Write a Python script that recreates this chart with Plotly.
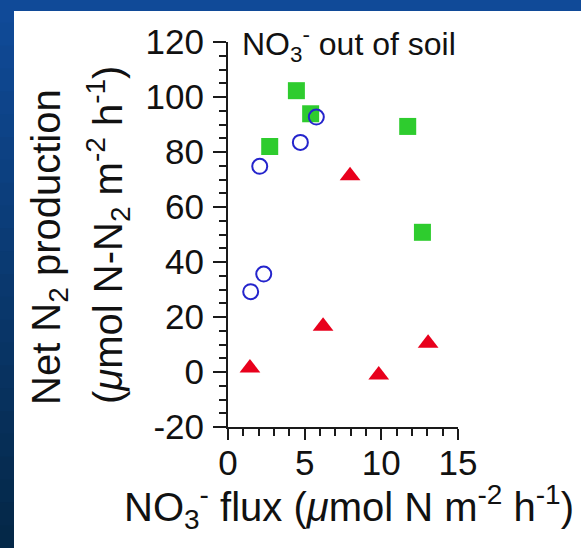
import plotly.graph_objects as go

# NO3- flux (umol N m-2 h-1) vs net N2 production (umol N-N2 m-2 h-1)
sq_x = [4.46, 5.39, 2.72, 11.72, 12.68]
sq_y = [102.3, 93.9, 82.0, 89.3, 50.8]

circ_x = [5.76, 4.72, 2.07, 1.48, 2.33]
circ_y = [92.7, 83.5, 74.8, 29.2, 35.6]

tri_x = [1.43, 6.2, 7.96, 9.83, 13.05]
tri_y = [1.5, 16.6, 71.4, -1.1, 10.5]

x_ticks = [0, 5, 10, 15]
y_ticks = [-20, 0, 20, 40, 60, 80, 100, 120]
y_tick_text = ["-20", "0", "20", "40", "60", "80", "100", "120"]

W, H = 581, 548
L, R, T, B = 228, 123, 42, 121
PW, PH = W - L - R, H - T - B

FONT = "Liberation Sans, Arial, Helvetica, sans-serif"


def px(x):
    return (x - L) / PW


def py(y):
    return 1 - (y - T) / PH


fig = go.Figure()
fig.add_trace(go.Scatter(
    x=sq_x, y=sq_y, mode="markers",
    marker=dict(symbol="square", size=17, color="#2ecc2e", line=dict(width=0)),
))
fig.add_trace(go.Scatter(
    x=circ_x, y=circ_y, mode="markers",
    marker=dict(symbol="circle-open", size=15, color="#2424cc", line=dict(width=2, color="#2424cc")),
))
fig.add_trace(go.Scatter(
    x=tri_x, y=tri_y, mode="markers",
    marker=dict(symbol="triangle-up", size=18, color="#e8001c", line=dict(width=0)),
))

# slide background: vertical blue gradient, then the white panel
shapes = []
n = 24
top_c = (16, 74, 152)
bot_c = (4, 40, 72)
for i in range(n):
    f = i / (n - 1)
    c = tuple(round(top_c[k] + (bot_c[k] - top_c[k]) * f) for k in range(3))
    y0 = H * i / n
    y1 = H * (i + 1) / n + 1
    shapes.append(dict(type="rect", xref="paper", yref="paper", layer="below",
                       x0=px(0), x1=px(W), y0=py(y1), y1=py(y0),
                       fillcolor="rgb(%d,%d,%d)" % c, line=dict(width=0)))
shapes.append(dict(type="rect", xref="paper", yref="paper", layer="below",
                   x0=px(14), x1=px(W + 2), y0=py(H + 2), y1=py(11),
                   fillcolor="white", line=dict(width=0)))

axis_common = dict(
    showline=True, linecolor="#1a1a1a", linewidth=2,
    ticks="outside", tickwidth=1.5, tickcolor="#1a1a1a",
    showgrid=False, zeroline=False,
    tickfont=dict(family=FONT, size=35, color="#111"),
)

fig.update_layout(
    width=W, height=H,
    margin=dict(l=L, r=R, t=T, b=B),
    paper_bgcolor="rgb(10,55,110)",
    plot_bgcolor="white",
    showlegend=False,
    shapes=shapes,
    font=dict(family=FONT, size=35, color="#111"),
    xaxis=dict(range=[0, 15], tickvals=x_ticks, ticklen=11, ticklabelstandoff=-7,
               minor=dict(dtick=1, ticks="outside", ticklen=7, tickwidth=1.5, tickcolor="#1a1a1a", showgrid=False),
               **axis_common),
    yaxis=dict(range=[-20, 120], tickvals=y_ticks, ticktext=y_tick_text, ticklen=13, ticklabelstandoff=2,
               minor=dict(dtick=5, ticks="outside", ticklen=7, tickwidth=1.5, tickcolor="#1a1a1a", showgrid=False),
               **axis_common),
    annotations=[
        dict(text="NO<sub>3</sub><sup>-</sup> out of soil", xref="paper", yref="paper",
             x=px(240), y=py(44), xanchor="left", yanchor="middle", showarrow=False,
             font=dict(family=FONT, size=32, color="#111")),
        dict(text="NO<sub>3</sub><sup>-</sup> flux (<i>μ</i>mol N m<sup>-2</sup> h<sup>-1</sup>)",
             xref="paper", yref="paper", x=px(349), y=py(507), xanchor="center", yanchor="middle",
             showarrow=False, font=dict(family=FONT, size=40, color="#111")),
        dict(text="Net N<sub>2</sub> production", xref="paper", yref="paper", textangle=-90,
             x=px(49), y=py(247), xanchor="center", yanchor="middle", showarrow=False,
             font=dict(family=FONT, size=40, color="#111")),
        dict(text="(<i>μ</i>mol N-N<sub>2</sub> m<sup>-2</sup> h<sup>-1</sup>)", xref="paper", yref="paper",
             textangle=-90, x=px(108), y=py(235), xanchor="center", yanchor="middle", showarrow=False,
             font=dict(family=FONT, size=40, color="#111")),
    ],
)

fig.write_html("out.html")
